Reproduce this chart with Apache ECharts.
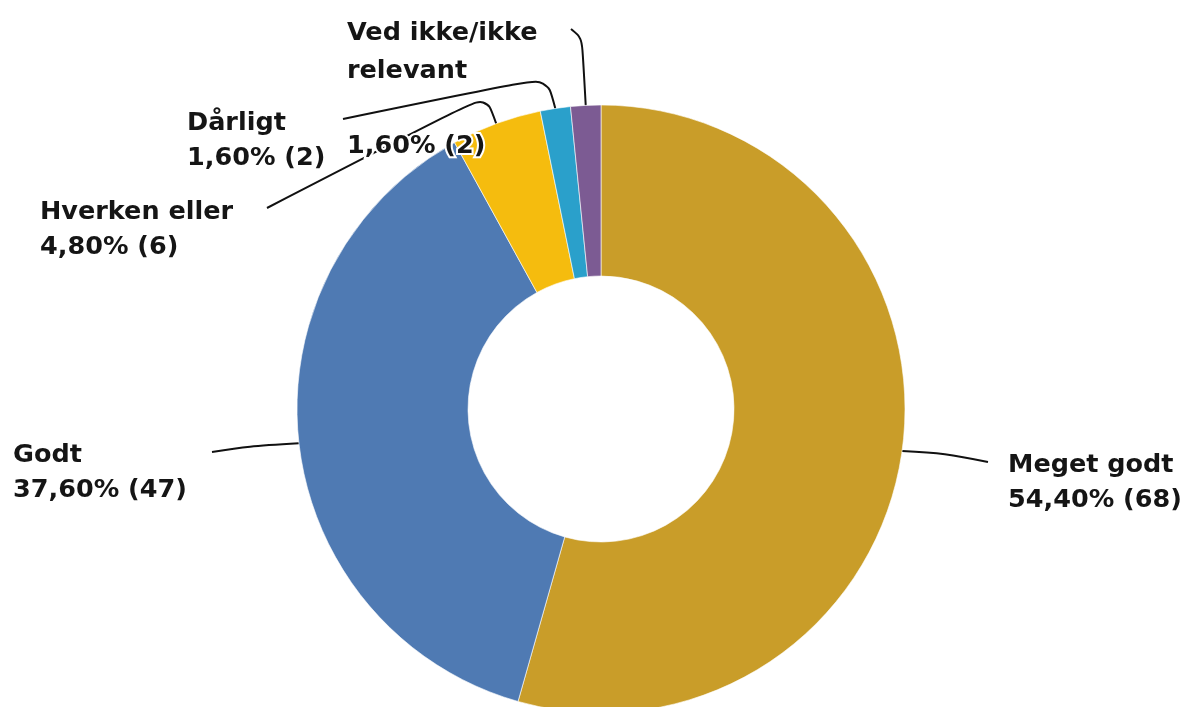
<!DOCTYPE html>
<html>
<head>
<meta charset="utf-8">
<script src="https://cdn.jsdelivr.net/npm/echarts@6/dist/echarts.min.js"></script>
<style>
html,body{margin:0;padding:0;background:#fff;}
#chart{width:1192px;height:707px;}
</style>
</head>
<body>
<div id="chart"></div>
<script>
// Data
const categories = ['Meget godt', 'Godt', 'Hverken eller', 'Dårligt', 'Ved ikke/ikke relevant'];
const labelNames = ['Meget godt', 'Godt', 'Hverken eller', 'Dårligt', 'Ved ikke/ikke\nrelevant\n'];
const counts = [68, 47, 6, 2, 2];
const colors = ['#C99D29', '#4F7AB3', '#F5BC0E', '#2AA0CB', '#7C5B93'];

const total = counts.reduce((a, b) => a + b, 0);

// Label layout (positions of label blocks and elbow/end points of leader lines)
const labelPos = [
  { x: 1008, y: 448, line: [[945, 453], [988, 462]], lh: 35 },
  { x: 13, y: 438, line: [[250, 446], [212, 452]], lh: 35 },
  { x: 40, y: 195, line: [[486, 95], [267, 208]], lh: 35 },
  { x: 187, y: 106, line: [[547, 77], [343, 119]], lh: 35 },
  { x: 347, y: 15, line: [[582, 38], [571, 29]], lh: 37.5 }
];

const chart = echarts.init(document.getElementById('chart'), null, { renderer: 'canvas' });

const seriesData = categories.map((c, i) => ({
  name: c,
  value: counts[i],
  itemStyle: { color: colors[i] },
  label: { lineHeight: labelPos[i].lh }
}));

chart.setOption({
  animation: false,
  series: [{
    type: 'pie',
    center: [601, 409],
    radius: [133, 304],
    startAngle: 90,
    clockwise: true,
    avoidLabelOverlap: false,
    emphasis: { disabled: true },
    itemStyle: { borderColor: '#ffffff', borderWidth: 0.6 },
    label: {
      show: true,
      position: 'outside',
      fontFamily: 'DejaVu Sans',
      fontWeight: 'bold',
      fontSize: 25.5,
      color: '#151515',
      align: 'left',
      textBorderColor: '#ffffff',
      textBorderWidth: 4,
      formatter: function (p) {
        const i = p.dataIndex;
        const pct = (counts[i] / total * 100).toFixed(2).replace('.', ',');
        return labelNames[i] + '\n' + pct + '% (' + counts[i] + ')';
      }
    },
    labelLine: {
      show: true,
      smooth: 0.35,
      length: 10,
      length2: 10,
      lineStyle: { color: '#111111', width: 2 }
    },
    labelLayout: function (params) {
      const i = params.dataIndex;
      const lp = labelPos[i];
      const start = params.labelLinePoints ? params.labelLinePoints[0] : null;
      const pts = start ? [start].concat(lp.line) : undefined;
      return {
        x: lp.x,
        y: lp.y,
        align: 'left',
        verticalAlign: 'top',
        labelLinePoints: pts
      };
    },
    data: seriesData
  }]
});
</script>
</body>
</html>
